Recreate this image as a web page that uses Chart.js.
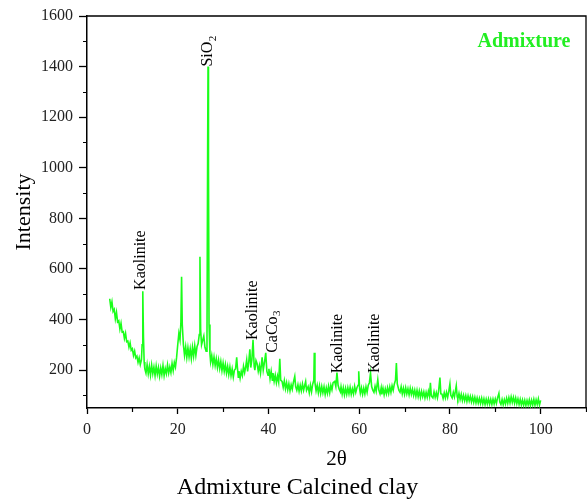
<!DOCTYPE html>
<html>
<head>
<meta charset="utf-8">
<script src="https://cdn.jsdelivr.net/npm/chart.js@4.4.1/dist/chart.umd.min.js"></script>
<style>
html,body{margin:0;padding:0;background:#fff;}
canvas{display:block;}
</style>
</head>
<body>
<canvas id="c" width="587" height="500"></canvas>
<script>
const twoTheta = [
5.00,5.25,5.50,5.75,6.00,6.25,6.50,6.75,7.00,7.25,7.50,7.75,8.00,8.25,8.50,8.75,
9.00,9.25,9.50,9.75,10.00,10.25,10.50,10.75,11.00,11.25,11.50,11.75,12.00,12.15,12.30,12.45,
12.60,12.75,13.00,13.25,13.50,13.75,14.00,14.25,14.50,14.75,15.00,15.25,15.50,15.75,16.00,16.25,
16.50,16.75,17.00,17.25,17.50,17.75,18.00,18.25,18.50,18.75,19.00,19.25,19.50,19.75,20.00,20.25,
20.50,20.70,20.85,21.00,21.25,21.50,21.75,22.00,22.25,22.50,22.75,23.00,23.25,23.50,23.75,24.00,
24.25,24.50,24.75,24.90,25.05,25.25,25.50,25.75,26.00,26.25,26.45,26.60,26.68,26.78,26.90,27.10,
27.25,27.50,27.75,28.00,28.25,28.50,28.75,29.00,29.25,29.50,29.75,30.00,30.25,30.50,30.75,31.00,
31.25,31.50,31.75,32.00,32.25,32.50,32.75,33.00,33.15,33.35,33.50,33.75,34.00,34.25,34.50,34.75,
35.00,35.20,35.40,35.65,35.90,36.10,36.35,36.60,36.85,37.00,37.25,37.50,37.75,38.00,38.25,38.60,
38.85,39.10,39.40,39.65,39.90,40.10,40.35,40.60,40.85,41.00,41.25,41.50,41.75,42.00,42.25,42.50,
42.70,43.00,43.25,43.50,43.75,44.00,44.25,44.50,44.75,45.00,45.25,45.50,45.80,46.00,46.25,46.50,
46.75,47.00,47.25,47.50,47.75,48.00,48.20,48.40,48.75,49.00,49.25,49.50,49.75,50.00,50.10,50.25,
50.50,50.75,51.00,51.25,51.50,51.75,52.00,52.25,52.50,52.75,53.00,53.25,53.50,53.75,54.00,54.25,
54.60,54.85,55.10,55.35,55.60,55.85,56.00,56.25,56.50,56.75,57.00,57.25,57.50,57.75,58.00,58.25,
58.50,58.75,59.00,59.25,59.50,59.75,59.90,60.10,60.25,60.50,60.75,61.00,61.25,61.50,61.75,62.00,
62.25,62.50,62.75,63.00,63.25,63.50,63.75,64.10,64.35,64.60,64.85,65.00,65.25,65.50,65.75,66.00,
66.25,66.50,66.75,67.00,67.25,67.50,67.75,68.00,68.20,68.40,68.75,69.00,69.25,69.50,69.75,70.00,
70.25,70.50,70.75,71.00,71.25,71.50,71.75,72.00,72.25,72.50,72.75,73.00,73.25,73.50,73.75,74.00,
74.25,74.50,74.75,75.00,75.25,75.50,75.70,75.90,76.25,76.50,76.75,77.00,77.25,77.50,77.80,78.00,
78.25,78.50,78.75,79.00,79.25,79.50,79.75,80.00,80.20,80.50,80.75,81.00,81.40,81.60,81.75,82.00,
82.25,82.50,82.75,83.00,83.25,83.50,83.75,84.00,84.25,84.50,84.75,85.00,85.25,85.50,85.75,86.00,
86.25,86.50,86.75,87.00,87.25,87.50,87.75,88.00,88.25,88.50,88.75,89.00,89.25,89.50,89.75,90.00,
90.25,90.50,90.80,91.00,91.25,91.50,91.75,92.00,92.25,92.50,92.75,93.00,93.25,93.50,93.75,94.00,
94.25,94.50,94.75,95.00,95.25,95.50,95.75,96.00,96.25,96.50,96.75,97.00,97.25,97.50,97.75,98.00,
98.25,98.50,98.75,99.00,99.25,99.50,99.75,100.00
];
const intensity = [
482,448,470,432,440,402,428,390,395,362,385,350,352,325,345,312,
315,290,308,278,284,258,275,248,255,230,248,222,240,300,512,330,
232,205,188,222,185,215,180,220,186,212,178,216,184,210,176,208,
182,218,178,206,186,220,188,212,190,226,198,230,212,250,300,345,
320,390,569,380,300,258,292,250,288,252,284,246,290,255,296,258,
292,305,340,648,360,300,318,335,290,275,330,1100,1400,1000,380,265,
232,258,222,252,218,245,210,240,206,234,198,228,195,222,188,215,
182,212,178,204,172,200,205,250,212,172,196,168,195,178,215,190,
215,240,195,232,282,210,242,320,215,200,238,225,195,218,188,250,
200,228,268,195,180,205,165,195,160,188,155,180,150,176,152,245,
160,155,132,158,126,150,122,146,118,142,124,152,175,135,120,142,
116,140,118,145,120,140,155,120,135,110,140,114,144,160,268,150,
118,140,110,138,108,135,110,134,104,130,108,136,110,140,122,150,
155,135,190,140,124,114,134,105,130,102,128,104,130,106,132,104,
126,106,136,112,130,140,195,125,108,130,104,128,106,134,112,140,
150,188,135,120,112,136,116,162,120,106,130,104,128,102,126,106,
130,108,134,112,138,120,145,160,228,145,120,112,134,106,128,104,
130,106,126,102,128,104,124,100,121,96,120,95,118,92,116,95,
114,90,112,92,116,96,150,98,90,114,92,111,90,116,170,106,
105,88,110,90,112,92,116,145,100,90,112,94,138,95,86,108,
84,104,80,100,79,99,76,98,78,96,74,94,72,92,70,90,
69,88,68,89,66,86,64,85,66,86,65,84,64,85,66,86,
68,90,108,74,64,84,63,83,66,88,68,91,70,94,72,92,
69,90,67,86,64,84,62,82,61,81,60,80,62,82,60,81,
62,84,61,82,64,86,62,80
];

// Axis ticks
const xTickValues = [0, 20, 40, 60, 80, 100];
const xMinorTicks = [10, 30, 50, 70, 90, 110];
const yTickValues = [200, 400, 600, 800, 1000, 1200, 1400, 1600];
const yMinorTicks = [100, 300, 500, 700, 900, 1100, 1300, 1500];

// Peak annotations: text, subscript, position (2θ) and base intensity
const peakNames = ['Kaolinite', 'SiO', 'Kaolinite', 'CaCo', 'Kaolinite', 'Kaolinite'];
const peakSubs = ['', '2', '', '3', '', ''];
const peakPos = [11.9, 26.72, 36.63, 40.9, 55.35, 63.44];
const peakBase = [517, 1400, 319, 268, 187, 188];

const seriesName = 'Admixture';
const captionText = 'Admixture Calcined clay';

const SERIF = "'Liberation Serif', 'Times New Roman', serif";

const decorPlugin = {
  id: 'decor',
  afterDraw(chart) {
    const ctx = chart.ctx;
    const xs = chart.scales.x, ys = chart.scales.y;
    const a = chart.chartArea;
    ctx.save();
    // frame: top and right
    ctx.strokeStyle = '#000';
    ctx.lineWidth = 1.3;
    ctx.beginPath();
    ctx.moveTo(a.left, a.top);
    ctx.lineTo(a.right, a.top);
    ctx.lineTo(a.right, a.bottom);
    ctx.stroke();
    // minor ticks
    ctx.lineWidth = 1.2;
    ctx.beginPath();
    xMinorTicks.forEach(v => {
      const px = Math.round(xs.getPixelForValue(v)) + 0.5;
      ctx.moveTo(px, a.bottom);
      ctx.lineTo(px, a.bottom + 4);
    });
    yMinorTicks.forEach(v => {
      const py = Math.round(ys.getPixelForValue(v)) + 0.5;
      ctx.moveTo(a.left, py);
      ctx.lineTo(a.left - 4, py);
    });
    ctx.stroke();
    // peak labels
    ctx.fillStyle = '#000';
    peakNames.forEach((name, i) => {
      const px = xs.getPixelForValue(peakPos[i]);
      const py = ys.getPixelForValue(peakBase[i]);
      ctx.save();
      ctx.translate(px, py);
      ctx.rotate(-Math.PI / 2);
      ctx.textAlign = 'left';
      ctx.textBaseline = 'middle';
      ctx.font = '16px ' + SERIF;
      ctx.fillText(name, 0, 0);
      if (peakSubs[i]) {
        const w = ctx.measureText(name).width;
        ctx.font = '11px ' + SERIF;
        ctx.fillText(peakSubs[i], w + 0.5, 5);
      }
      ctx.restore();
    });
    // series name
    ctx.fillStyle = '#22ee22';
    ctx.font = 'bold 20px ' + SERIF;
    ctx.textAlign = 'center';
    ctx.textBaseline = 'middle';
    ctx.fillText(seriesName, a.right - 62, a.top + 26);
    // caption
    ctx.fillStyle = '#000';
    ctx.font = '24px ' + SERIF;
    ctx.fillText(captionText, chart.width / 2 + 4, 488);
    ctx.restore();
  }
};

new Chart(document.getElementById('c').getContext('2d'), {
  type: 'line',
  data: {
    datasets: [{
      label: seriesName,
      data: twoTheta.map((x, i) => ({ x: x, y: intensity[i] })),
      borderColor: '#1aff1a',
      borderWidth: 1.6,
      pointRadius: 0,
      tension: 0,
      fill: false
    }]
  },
  options: {
    responsive: false,
    animation: false,
    layout: { padding: { top: 16, right: 1, left: 0, bottom: 0 } },
    plugins: { legend: { display: false }, tooltip: { enabled: false } },
    scales: {
      x: {
        type: 'linear',
        min: 0, max: 110,
        afterBuildTicks: s => { s.ticks = xTickValues.map(v => ({ value: v })); },
        afterFit: s => { s.height = 92; },
        grid: { display: true, drawOnChartArea: false, drawTicks: true, tickLength: 6, tickColor: '#000', tickWidth: 1.3 },
        border: { display: true, color: '#000', width: 1.5 },
        ticks: { font: { family: SERIF, size: 16 }, color: '#222', padding: 6, maxRotation: 0, callback: v => String(v) },
        title: { display: true, text: '2θ', font: { family: SERIF, size: 21 }, color: '#000', padding: { top: 0, bottom: 28 } }
      },
      y: {
        type: 'linear',
        min: 50, max: 1600,
        afterBuildTicks: s => { s.ticks = yTickValues.map(v => ({ value: v })); },
        afterFit: s => { s.width = 87; },
        grid: { display: true, drawOnChartArea: false, drawTicks: true, tickLength: 8, tickColor: '#000', tickWidth: 1.3 },
        border: { display: true, color: '#000', width: 1.5 },
        ticks: { font: { family: SERIF, size: 16 }, color: '#222', padding: 6, callback: v => String(v) },
        title: { display: true, text: 'Intensity', font: { family: SERIF, size: 22 }, color: '#000', padding: { top: 11, bottom: 0 } }
      }
    }
  },
  plugins: [decorPlugin]
});
</script>
</body>
</html>
